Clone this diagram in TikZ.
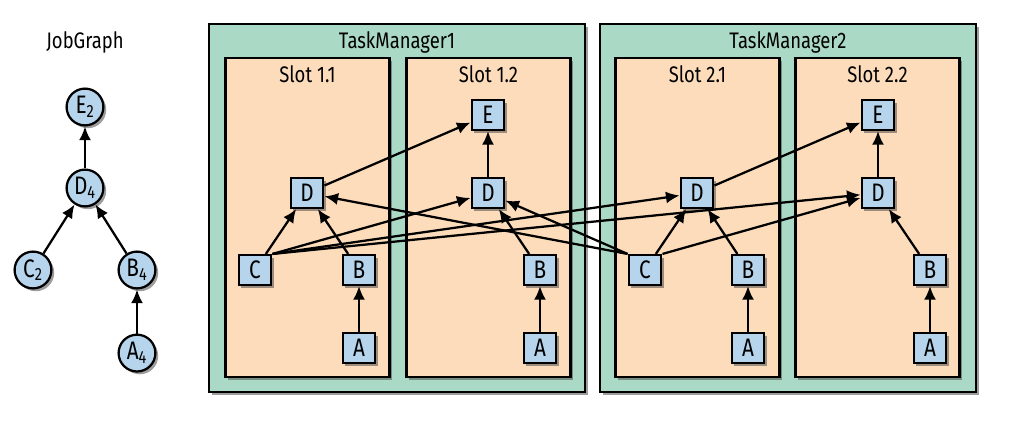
\documentclass[tikz,border=0pt]{standalone}
\usepackage{fontspec}
\setmainfont{Fira Sans}[FakeStretch=0.82]
\usepackage{xcolor}
\usetikzlibrary{arrows.meta,positioning,shadows}

\definecolor{tmgreen}{RGB}{170,218,198}
\definecolor{slotpeach}{RGB}{252,220,186}
\definecolor{taskblue}{RGB}{182,213,236}

\begin{document}
\begin{tikzpicture}[
    x=0.025cm, y=-0.025cm,
    font=\fontsize{16}{19}\selectfont,
    node distance=10mm,
    shade/.style={drop shadow={shadow xshift=2pt, shadow yshift=-2pt, fill=black!70, opacity=0.55}},
    tm/.style={draw, line width=1.6pt, fill=tmgreen, minimum width=9.4cm, minimum height=9.2cm, shade},
    slot/.style={draw, line width=1.6pt, fill=slotpeach, minimum width=4.1cm, minimum height=7.98cm, shade},
    task/.style={draw, line width=1.5pt, fill=taskblue, minimum width=0.82cm, minimum height=0.75cm, inner sep=0pt, font=\fontsize{18}{20}\selectfont, shade},
    op/.style={draw, circle, line width=1.6pt, fill=taskblue, minimum size=0.92cm, inner sep=0pt, font=\fontsize{18}{20}\selectfont, shade},
    arrow/.style={-{Latex[length=3.4mm, width=3mm]}, line width=1.6pt}
]
\useasboundingbox (0,0) rectangle (1026,428);

% job graph
\node (jg) at (85,42) {JobGraph};
\node[op] (e2) at (85,107) {E\textsubscript{2}};
\node[op] (d4) at (85,188) {D\textsubscript{4}};
\node[op] (c2) at (33,270) {C\textsubscript{2}};
\node[op] (b4) at (137,270) {B\textsubscript{4}};
\node[op, below=1.1cm of b4] (a4) {A\textsubscript{4}};

\draw[arrow] (d4) -- (e2);
\draw[arrow] (c2) -- (d4);
\draw[arrow] (b4) -- (d4);
\draw[arrow] (a4) -- (b4);

% task managers and slots
\node[tm] (tm1) at (397,208) {};
\node[tm] (tm2) at (788,208) {};
\node (tm1title) at (397,42) {TaskManager1};
\node (tm2title) at (788,42) {TaskManager2};

\node[slot] (s11) at (307.5,217.5) {};
\node[slot] (s12) at (488.5,217.5) {};
\node[slot] (s21) at (697.5,217.5) {};
\node[slot] (s22) at (877.5,217.5) {};
\node (s11title) at (307.5,74) {Slot 1.1};
\node (s12title) at (488.5,74) {Slot 1.2};
\node (s21title) at (697.5,74) {Slot 2.1};
\node (s22title) at (877.5,74) {Slot 2.2};

% subtasks
\node[task] (d11) at (307,193) {D};
\node[task] (c11) at (255,270) {C};
\node[task] (b11) at (359,270) {B};
\node[task] (a11) at (359,348) {A};

\node[task] (e12) at (488,115) {E};
\node[task] (d12) at (488,193) {D};
\node[task] (b12) at (540,270) {B};
\node[task] (a12) at (540,348) {A};

\node[task] (d21) at (697,193) {D};
\node[task] (c21) at (645,270) {C};
\node[task] (b21) at (748,270) {B};
\node[task] (a21) at (748,348) {A};

\node[task] (e22) at (878,115) {E};
\node[task] (d22) at (878,193) {D};
\node[task] (b22) at (930,270) {B};
\node[task] (a22) at (930,348) {A};

% data exchange
\foreach \s in {11,12,21,22} {
  \draw[arrow] (a\s) -- (b\s);
  \draw[arrow] (b\s) -- (d\s);
}
\draw[arrow] (c11) -- (d11);
\draw[arrow] (c21) -- (d21);
\draw[arrow] (c11.north east) -- (d12);
\draw[arrow] (c11.north east) -- (d21);
\draw[arrow] (c11.north east) -- (d22);
\draw[arrow] (c21.north west) -- (d11);
\draw[arrow] (c21.north west) -- (d12);
\draw[arrow] (c21.north east) -- (d22);
\draw[arrow] (d11) -- (e12);
\draw[arrow] (d12) -- (e12);
\draw[arrow] (d21) -- (e22);
\draw[arrow] (d22) -- (e22);
\end{tikzpicture}
\end{document}
